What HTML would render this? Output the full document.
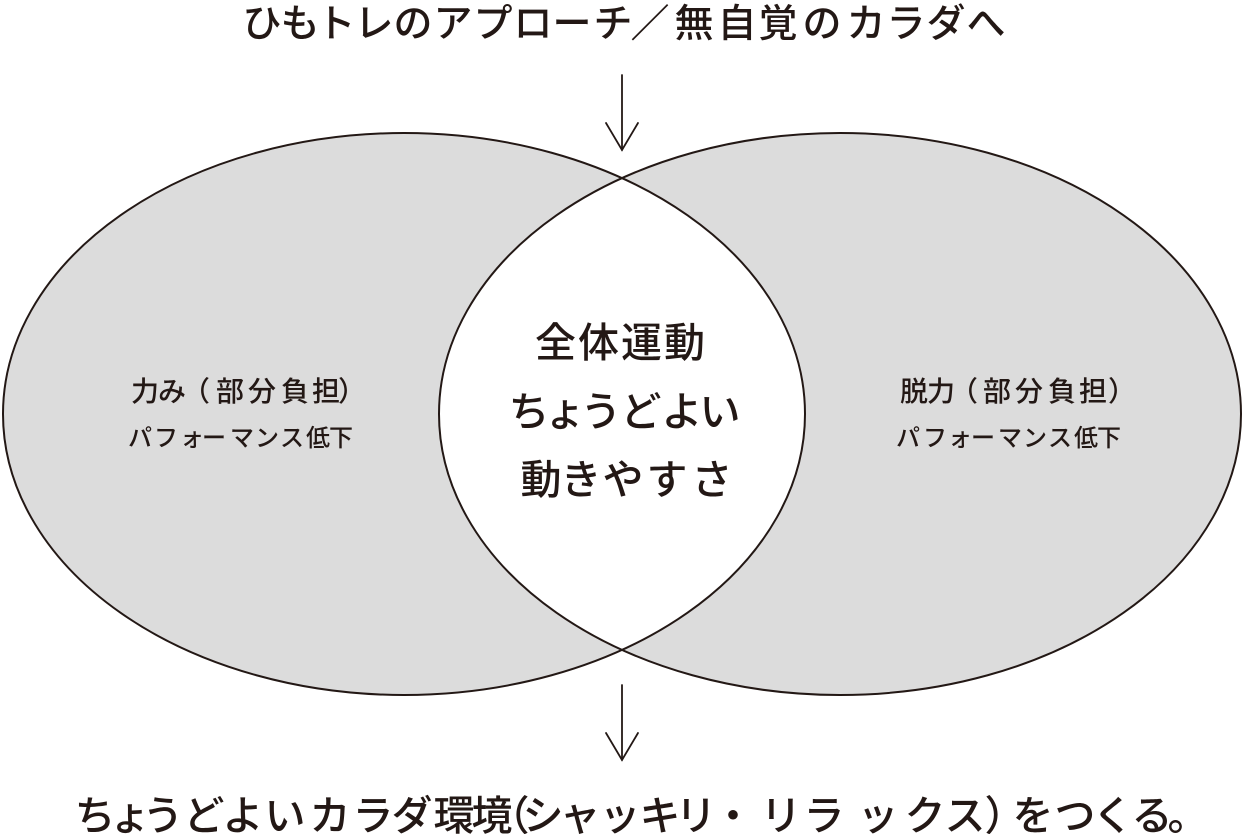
<!DOCTYPE html>
<html lang="ja">
<head>
<meta charset="utf-8">
<style>
  html, body { margin: 0; padding: 0; background: #ffffff; }
  body { width: 1243px; height: 834px; overflow: hidden; }
  svg { display: block; }
  text { font-family: "Liberation Sans", "Noto Sans CJK JP", "Noto Sans CJK SC", sans-serif; fill: #231815; font-weight: 500; }
</style>
</head>
<body>
<svg width="1243" height="834" viewBox="0 0 1243 834" xmlns="http://www.w3.org/2000/svg">
  <defs>
    <clipPath id="clipL">
      <ellipse cx="404" cy="414" rx="401" ry="281"/>
    </clipPath>
  </defs>

  <!-- ellipses -->
  <ellipse cx="404" cy="414" rx="401" ry="281" fill="#dcdcdc"/>
  <ellipse cx="840" cy="414" rx="401" ry="281" fill="#dcdcdc"/>
  <ellipse cx="840" cy="414" rx="401" ry="281" fill="#ffffff" clip-path="url(#clipL)"/>
  <ellipse cx="404" cy="414" rx="401" ry="281" fill="none" stroke="#231815" stroke-width="2"/>
  <ellipse cx="840" cy="414" rx="401" ry="281" fill="none" stroke="#231815" stroke-width="2"/>

  <!-- arrows -->
  <g stroke="#231815" stroke-width="1.8" fill="none" stroke-linecap="round" stroke-linejoin="miter">
    <line x1="622" y1="75" x2="622" y2="150"/>
    <polyline points="606,123 622,150 638,123"/>
    <line x1="622" y1="685" x2="622" y2="760"/>
    <polyline points="606,733 622,760 638,733"/>
  </g>

  <!-- title -->
  <text font-size="39" text-anchor="middle" y="37"
    x="262 300 336 374 413 453 493 533 572 613 650 694 737 778 822 866 906 946 986">ひもトレのアプローチ／無自覚のカラダへ</text>

  <!-- center text -->
  <text font-size="41" text-anchor="middle" y="357"
    x="555.5 598.5 641.5 684.5">全体運動</text>
  <text font-size="41" text-anchor="middle" y="426"
    x="529 565 601 641 682 720">ちょうどよい</text>
  <text font-size="41" text-anchor="middle" y="494"
    x="541 581 623 667 712">動きやすさ</text>

  <!-- left labels -->
  <text font-size="28" text-anchor="middle" y="401"
    x="145 172 196 230 262 295 326 352">力み（部分負担）</text>
  <text font-size="24" text-anchor="middle" y="446"
    x="140 166 192 214 242 267 292 318 341">パフォーマンス低下</text>

  <!-- right labels -->
  <text font-size="28" text-anchor="middle" y="401"
    x="914 941 964 997 1029 1062 1093 1122">脱力（部分負担）</text>
  <text font-size="24" text-anchor="middle" y="446"
    x="908 935 960 983 1010 1035 1060 1086 1109">パフォーマンス低下</text>

  <!-- bottom text -->
  <text font-size="41" text-anchor="middle" y="830"
    x="95 130 163 204 243 285 330 373 412 454 492 509 543 580 620 660 696 733 781 824 878 925 965 1005 1033 1075 1113 1152 1188">ちょうどよいカラダ環境（シャッキリ・リラックス）をつくる。</text>
</svg>
</body>
</html>
